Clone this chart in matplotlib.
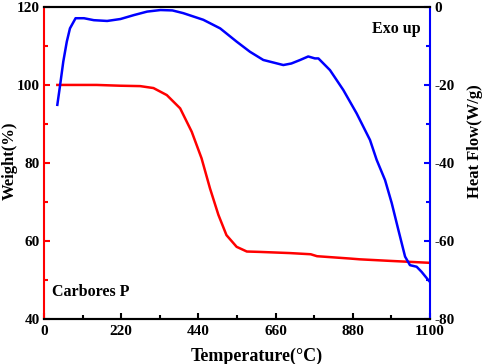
import matplotlib.pyplot as plt
from matplotlib.ticker import MultipleLocator

# TG curve (weight %)
tg_temp = [38, 80, 150, 217, 274, 312, 350, 388, 421, 449, 473, 497, 520, 549, 578,
           615, 701, 760, 778, 872, 900, 986, 1100]
tg_weight = [100.0, 100.0, 100.0, 99.8, 99.7, 99.2, 97.4, 94.0, 88.0, 81.2, 73.5, 66.7,
             61.5, 58.5, 57.3, 57.2, 56.9, 56.6, 56.1, 55.5, 55.3, 54.9, 54.4]

# DSC curve (heat flow W/g)
dsc_temp = [38, 46, 55, 65, 74, 90, 114, 142, 180, 218, 256, 294, 332, 366, 397, 454,
            502, 549, 587, 625, 682, 705, 730, 753, 772, 782, 815, 853, 891, 929, 948,
            972, 991, 1010, 1029, 1043, 1062, 1076, 1095, 1100]
dsc_flow = [-25.1, -20.0, -14.0, -8.9, -5.5, -2.9, -2.9, -3.4, -3.6, -3.1, -2.1, -1.2,
            -0.8, -0.9, -1.6, -3.3, -5.5, -8.9, -11.5, -13.6, -14.9, -14.5, -13.6, -12.7,
            -13.2, -13.2, -16.2, -21.3, -27.3, -34.1, -39.2, -44.4, -50.3, -57.2, -64.0,
            -66.2, -66.6, -67.9, -70.0, -70.5]

x_ticks = [0, 220, 440, 660, 880, 1100]

plt.rcParams["font.family"] = ["Liberation Serif", "DejaVu Serif"]
plt.rcParams["font.weight"] = "bold"
plt.rcParams["axes.unicode_minus"] = False

fig = plt.figure(figsize=(4.84, 3.64), dpi=100)
ax = fig.add_axes([0.0909, 0.1236, 0.7975, 0.8574])
ax2 = ax.twinx()

ax.plot(tg_temp, tg_weight, color="#ff0000", lw=1.8, solid_joinstyle="round")
ax2.plot(dsc_temp, dsc_flow, color="#0000ff", lw=1.8, solid_joinstyle="round")

ax.set_xlim(0, 1100)
ax.set_ylim(40, 120)
ax2.set_ylim(-80, 0)
ax.set_xticks(x_ticks)
ax.xaxis.set_minor_locator(MultipleLocator(110))
ax.set_yticks([40, 60, 80, 100, 120])
ax.yaxis.set_minor_locator(MultipleLocator(10))
ax2.set_yticks([-80, -60, -40, -20, 0])
ax2.yaxis.set_minor_locator(MultipleLocator(10))

for a in (ax, ax2):
    for s in a.spines.values():
        s.set_linewidth(1.5)
ax.spines["left"].set_color("#ff0000")
ax2.spines["left"].set_visible(False)
ax2.spines["right"].set_color("#0000ff")
ax.spines["right"].set_visible(False)

ax.tick_params(axis="x", which="both", direction="in", width=1.5, labelsize=11, pad=4)
ax.tick_params(axis="x", which="major", length=4)
ax.tick_params(axis="x", which="minor", length=3)
ax.tick_params(axis="y", which="both", direction="in", width=1.5, color="#ff0000",
               labelsize=11, pad=3)
ax.tick_params(axis="y", which="major", length=4)
ax.tick_params(axis="y", which="minor", length=3)
ax2.tick_params(axis="y", which="both", direction="in", width=1.5, color="#0000ff",
                labelsize=11, pad=3)
ax2.tick_params(axis="y", which="major", length=4)
ax2.tick_params(axis="y", which="minor", length=3)

ax.set_xlabel("Temperature(\u00b0C)", fontsize=13, fontweight="bold")
ax.xaxis.set_label_coords(0.552, -0.093)
ax.set_ylabel("Weight(%)", fontsize=12, fontweight="bold")
ax.yaxis.set_label_coords(-0.068, 0.506)
ax2.set_ylabel("Heat Flow(W/g)", fontsize=12, fontweight="bold")
ax2.yaxis.set_label_coords(1.096, 0.57)

ax.text(0.975, 0.955, "Exo up", transform=ax.transAxes, ha="right", va="top",
        fontsize=11.5, fontweight="bold")
ax.text(0.022, 0.085, "Carbores P", transform=ax.transAxes, ha="left", va="center",
        fontsize=11.5, fontweight="bold")

fig.savefig("out.png", dpi=100)
